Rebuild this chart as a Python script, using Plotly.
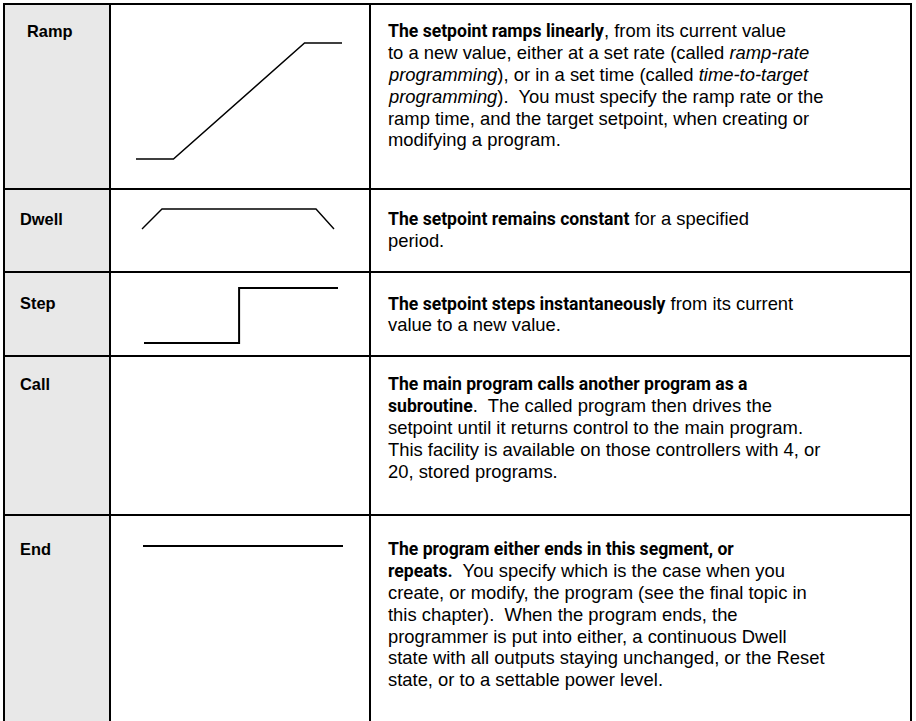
import plotly.graph_objects as go

W, H = 916, 721

# ---------------- data ----------------
segment_types = ["Ramp", "Dwell", "Step", "Call", "End"]

ramp_time = [0, 1, 4.5, 5.5]
ramp_setpoint = [0, 0, 1, 1]

dwell_time = [0, 1, 8.7, 9.6]
dwell_setpoint = [0, 1, 1, 0]

step_time = [0, 5, 5, 10.2]
step_setpoint = [0, 0, 1, 1]

end_time = [0, 10]
end_setpoint = [0.5, 0.5]

ramp_text = [
    "<b>The setpoint ramps linearly</b>, from its current value",
    "to a new value, either at a set rate (called <i>ramp-rate</i>",
    "<i>programming</i>), or in a set time (called <i>time-to-target</i>",
    "<i>programming</i>).\u00a0 You must specify the ramp rate or the",
    "ramp time, and the target setpoint, when creating or",
    "modifying a program.",
]
dwell_text = [
    "<b>The setpoint remains constant</b> for a specified",
    "period.",
]
step_text = [
    "<b>The setpoint steps instantaneously</b> from its current",
    "value to a new value.",
]
call_text = [
    "<b>The main program calls another program as a</b>",
    "<b>subroutine</b>.\u00a0 The called program then drives the",
    "setpoint until it returns control to the main program.",
    "This facility is available on those controllers with 4, or",
    "20, stored programs.",
]
end_text = [
    "<b>The program either ends in this segment, or</b>",
    "<b>repeats.</b>\u00a0 You specify which is the case when you",
    "create, or modify, the program (see the final topic in",
    "this chapter).\u00a0 When the program ends, the",
    "programmer is put into either, a continuous Dwell",
    "state with all outputs staying unchanged, or the Reset",
    "state, or to a settable power level.",
]
descriptions = [ramp_text, dwell_text, step_text, call_text, end_text]

# ---------------- layout geometry (pixels) ----------------
col_x = [4, 110, 370, 911]
row_y = [4, 189, 272, 356, 515, 723]
first_line_y = [31, 219, 303, 384, 549]
label_x = [25, 18, 18, 18, 18]
text_x = 386
line_h = 21.75
FONT = "Arial, 'Liberation Sans', sans-serif"
BOLD_FONT = "Roboto"
FS_REG = 18.4
FS_BOLD = 17.6
FS_LABEL = 16.4


def px(x):
    return x / W


def py(y):
    return 1 - y / H


def style_bold(s):
    return s.replace("<b>", "<b><span style='font-family:%s;font-size:%.1fpx'>" % (BOLD_FONT, FS_BOLD)).replace(
        "</b>", "</span></b>")


fig = go.Figure()
shapes = []
annotations = []

# grey label column
shapes.append(dict(type="rect", xref="paper", yref="paper",
                   x0=px(col_x[0]), x1=px(col_x[1]), y0=py(row_y[-1]), y1=py(row_y[0]),
                   fillcolor="#e8e8e8", line=dict(width=0), layer="below"))
# vertical lines
for x in col_x:
    shapes.append(dict(type="line", xref="paper", yref="paper",
                       x0=px(x), x1=px(x), y0=py(row_y[0] - 1), y1=py(row_y[-1]),
                       line=dict(color="black", width=2)))
# horizontal lines
for y in row_y[:-1]:
    shapes.append(dict(type="line", xref="paper", yref="paper",
                       x0=px(col_x[0] - 1), x1=px(col_x[-1] + 1), y0=py(y), y1=py(y),
                       line=dict(color="black", width=2)))

# labels and description lines
for i, (lab, lines) in enumerate(zip(segment_types, descriptions)):
    annotations.append(dict(xref="paper", yref="paper", x=px(label_x[i]), y=py(first_line_y[i]),
                            text="<b>" + lab + "</b>", showarrow=False, xanchor="left",
                            yanchor="middle", font=dict(family=FONT, size=FS_LABEL, color="black")))
    for j, ln in enumerate(lines):
        annotations.append(dict(xref="paper", yref="paper", x=px(text_x),
                                y=py(first_line_y[i] + j * line_h),
                                text=style_bold(ln), showarrow=False, xanchor="left", yanchor="middle",
                                font=dict(family=FONT, size=FS_REG, color="black")))

# diagrams: each in its own small axis placed in the middle column
diagrams = [
    (ramp_time, ramp_setpoint, (136, 342, 43, 159), 1.5),
    (dwell_time, dwell_setpoint, (142, 334, 209, 229), 1.4),
    (step_time, step_setpoint, (144, 338, 288, 343), 2.0),
    (end_time, end_setpoint, (143, 343, 536, 556), 2.0),
]
pad = 4
for k, (t, sp, (x0, x1, ytop, ybot), lw) in enumerate(diagrams, start=1):
    tmin, tmax = min(t), max(t)
    sx = (tmax - tmin) / (x1 - x0)
    sy = 1.0 / (ybot - ytop)
    xr = [tmin - pad * sx, tmax + pad * sx]
    yr = [0 - pad * sy, 1 + pad * sy]
    xd = [px(x0 - pad), px(x1 + pad)]
    yd = [py(ybot + pad), py(ytop - pad)]
    suffix = "" if k == 1 else str(k)
    fig.add_trace(go.Scatter(x=t, y=sp, mode="lines",
                             line=dict(color="black", width=lw),
                             xaxis="x" + suffix, yaxis="y" + suffix,
                             hoverinfo="skip", showlegend=False))
    fig.layout["xaxis" + suffix] = dict(domain=xd, range=xr, visible=False, fixedrange=True,
                                        anchor="y" + suffix)
    fig.layout["yaxis" + suffix] = dict(domain=yd, range=yr, visible=False, fixedrange=True,
                                        anchor="x" + suffix)

fig.update_layout(width=W, height=H, margin=dict(l=0, r=0, t=0, b=0),
                  paper_bgcolor="white", plot_bgcolor="rgba(0,0,0,0)",
                  shapes=shapes, annotations=annotations, showlegend=False)

fig.write_html("out.html", config={"displayModeBar": False},
               post_script="document.body.style.margin='0px';document.body.style.overflow='hidden';")
